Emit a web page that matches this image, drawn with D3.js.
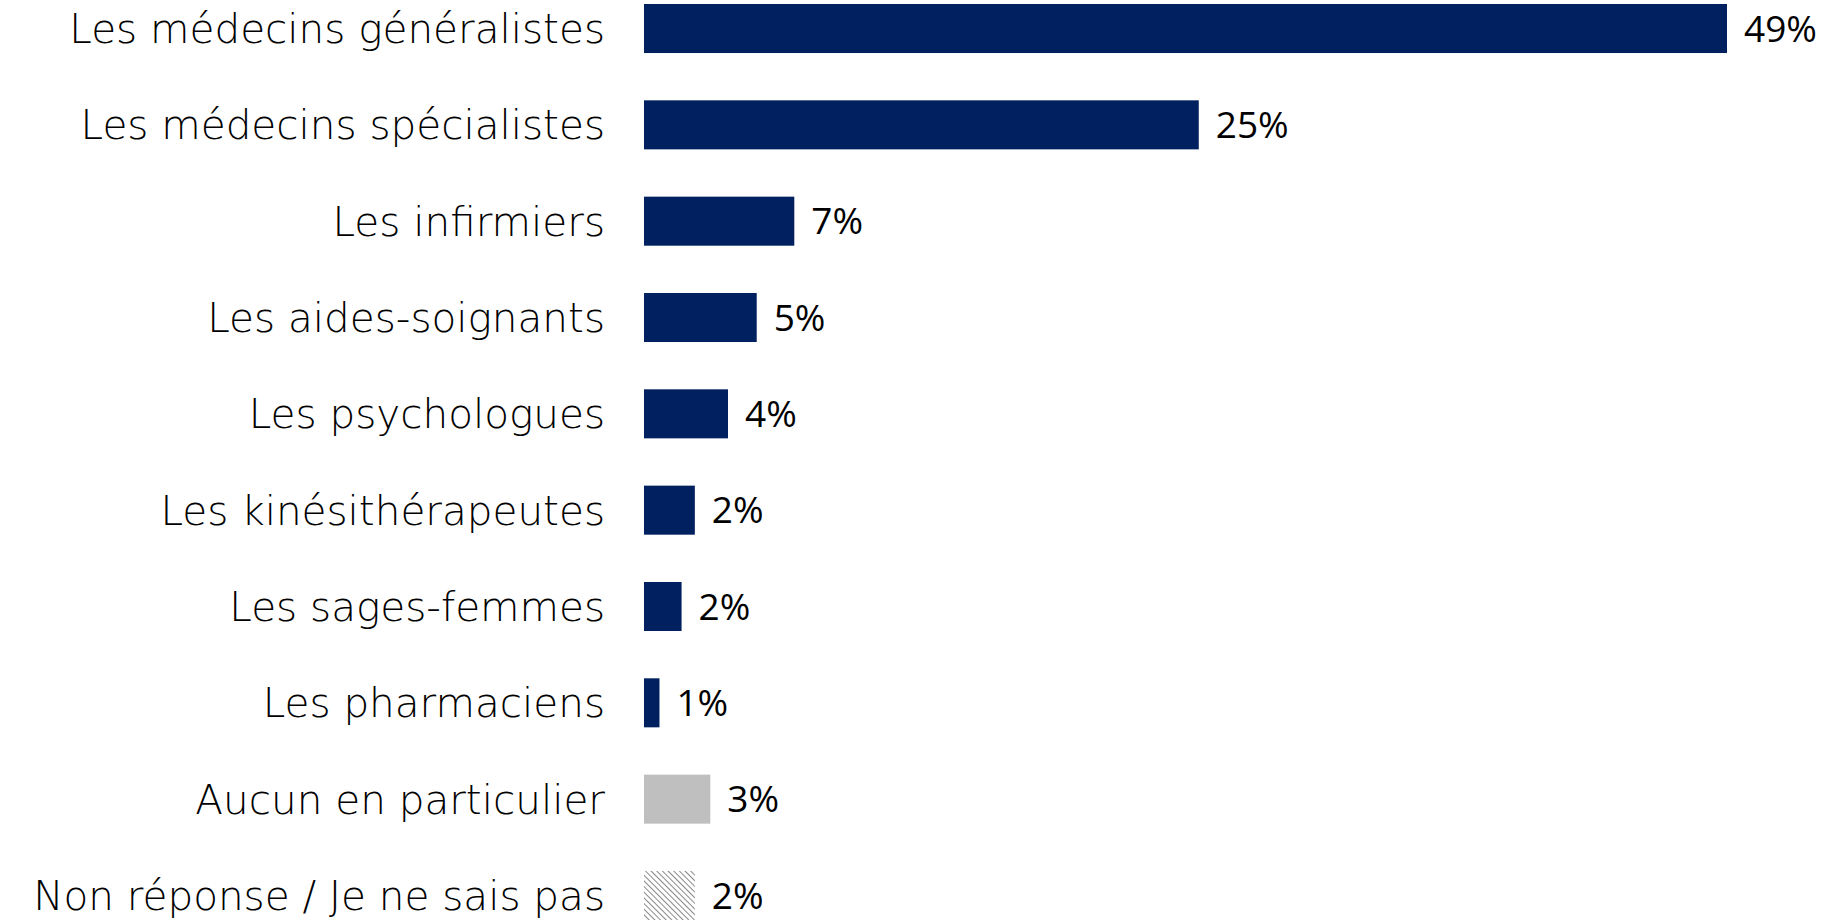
<!DOCTYPE html>
<html>
<head>
<meta charset="utf-8">
<script src="https://cdn.jsdelivr.net/npm/d3@7"></script>
<style>
  body { margin: 0; background: #fff; }
</style>
</head>
<body>
<svg id="chart"></svg>
<script>
const categories = [
    "Les médecins généralistes",
    "Les médecins spécialistes",
    "Les infirmiers",
    "Les aides-soignants",
    "Les psychologues",
    "Les kinésithérapeutes",
    "Les sages-femmes",
    "Les pharmaciens",
    "Aucun en particulier",
    "Non réponse / Je ne sais pas"
];
const values = [49, 25.1, 6.8, 5.1, 3.8, 2.3, 1.7, 0.7, 3.0, 2.3];
const valueLabels = ["49%", "25%", "7%", "5%", "4%", "2%", "2%", "1%", "3%", "2%"];
const kinds = ["main", "main", "main", "main", "main", "main", "main", "main", "none", "nsp"];

const width = 1842;
const height = 920;

const svg = d3.select("#chart")
    .attr("width", width)
    .attr("height", height);

// hatch for "Non réponse"
const defs = svg.append("defs");
const pat = defs.append("pattern")
    .attr("id", "hatch")
    .attr("patternUnits", "userSpaceOnUse")
    .attr("width", 4)
    .attr("height", 4)
    .attr("patternTransform", "rotate(-45)");
pat.append("rect").attr("width", 4).attr("height", 4).attr("fill", "#fff");
pat.append("line")
    .attr("x1", 0).attr("y1", 0).attr("x2", 0).attr("y2", 4)
    .attr("stroke", "#6a6a6a")
    .attr("stroke-width", 1.6);

const x = d3.scaleLinear()
    .domain([0, 49])
    .range([644, 1727]);

const y = d3.scaleBand()
    .domain(categories)
    .range([4, 920])
    .paddingInner(0.491)
    .paddingOuter(0);

function barFill(k) {
    if (k === "none") return "#bfbfbf";
    if (k === "nsp") return "url(#hatch)";
    return "#002060";
}

const rows = categories.map((c, i) => ({ cat: c, value: values[i], label: valueLabels[i], kind: kinds[i] }));

svg.append("g")
    .selectAll("rect")
    .data(rows)
    .enter()
    .append("rect")
    .attr("x", x(0))
    .attr("y", (d) => y(d.cat))
    .attr("width", (d) => x(d.value) - x(0))
    .attr("height", y.bandwidth())
    .attr("fill", (d) => barFill(d.kind));

// category labels
svg.append("g")
    .selectAll("text")
    .data(rows)
    .enter()
    .append("text")
    .attr("x", 605)
    .attr("y", (d) => y(d.cat) + y.bandwidth() / 2)
    .attr("dy", "0.36em")
    .attr("text-anchor", "end")
    .attr("font-family", "'DejaVu Sans', sans-serif")
    .attr("font-weight", 300)
    .attr("font-size", 40.5)
    .attr("fill", "#000")
    .text((d) => d.cat);

// value labels
svg.append("g")
    .selectAll("text")
    .data(rows)
    .enter()
    .append("text")
    .attr("x", (d) => x(d.value) + 17)
    .attr("y", (d) => y(d.cat) + y.bandwidth() / 2)
    .attr("dy", "0.36em")
    .attr("font-family", "'Open Sans', sans-serif")
    .attr("font-size", 37)
    .attr("fill", "#000")
    .text((d) => d.label);
</script>
</body>
</html>
